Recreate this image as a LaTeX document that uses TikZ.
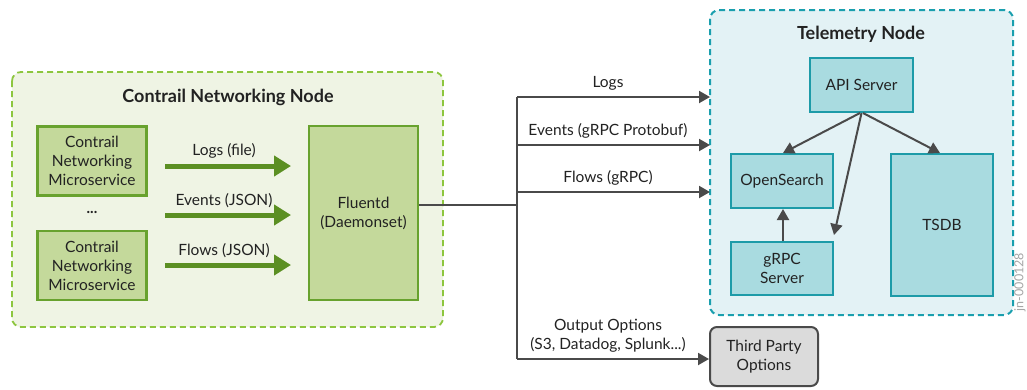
\documentclass[tikz,border=0pt]{standalone}
\usepackage{fontspec}
\setmainfont{Lato}
\usetikzlibrary{arrows.meta,calc}
\definecolor{gcfill}{HTML}{EFF4E4}
\definecolor{gcdraw}{HTML}{8DC63F}
\definecolor{gbfill}{HTML}{C4D99B}
\definecolor{gbdraw}{HTML}{68A22E}
\definecolor{garrow}{HTML}{5B8F22}
\definecolor{tcfill}{HTML}{E3F2F5}
\definecolor{tcdraw}{HTML}{1A9FAE}
\definecolor{tbfill}{HTML}{A9DBE0}
\definecolor{tbdraw}{HTML}{1D9BA8}
\definecolor{conn}{HTML}{4A4A4A}
\definecolor{txt}{HTML}{222222}
\tikzset{
  lbl/.style={font=\fontsize{15.5}{19}\selectfont, text=txt, align=center, inner sep=0pt},
  ttl/.style={font=\fontsize{18}{21}\selectfont\bfseries, text=txt, inner sep=0pt},
  gbox/.style={draw=gbdraw, fill=gbfill, line width=2.5pt, lbl},
  tbox/.style={draw=tbdraw, fill=tbfill, line width=2pt, lbl},
  gcont/.style={draw=gcdraw, fill=gcfill, line width=1.8pt, dash pattern=on 6pt off 4pt, rounded corners=9pt},
  tcont/.style={draw=tcdraw, fill=tcfill, line width=2pt, dash pattern=on 6pt off 4pt, rounded corners=9pt},
  garr/.style={draw=garrow, line width=5pt, -{Triangle[length=17pt,width=20pt]}},
  carr/.style={draw=conn, line width=2pt, -{Triangle[length=11pt,width=12pt]}},
  cline/.style={draw=conn, line width=2pt},
}
\begin{document}
\begin{tikzpicture}[x=1pt,y=-1pt]
\useasboundingbox (0,0) rectangle (1027,389);
% containers
\draw[gcont] (12,72) rectangle (443,327);
\node[ttl] (gtitle) at (228,97) {Contrail Networking Node};
\draw[tcont] (710,10) rectangle (1013,315);
\node[ttl] (ttitle) at (861,34) {Telemetry Node};
\coordinate (tcw) at (710,10);
% green boxes
\node[gbox, minimum width=109pt, minimum height=69pt] (ms1) at (92,161) {Contrail\\Networking\\Microservice};
\node[gbox, minimum width=109pt, minimum height=69pt] (ms2) at (92,265.5) {Contrail\\Networking\\Microservice};
\node[lbl, font=\fontsize{15}{19}\selectfont\bfseries] (dots) at (92,212) {...};
\node[gbox, minimum width=109pt, minimum height=174pt] (fd) at (363.5,213) {Fluentd\\(Daemonset)};
% green arrows
\coordinate (g1s) at (165,166); \coordinate (g1e) at (291,166);
\coordinate (g2s) at (165,215); \coordinate (g2e) at (291,215);
\coordinate (g3s) at (165,265); \coordinate (g3e) at (291,265);
\draw[garr] (g1s) -- (g1e);
\draw[garr] (g2s) -- (g2e);
\draw[garr] (g3s) -- (g3e);
\node[lbl] (l1) at (224,151) {Logs (file)};
\node[lbl] (l2) at (224,201) {Events (JSON)};
\node[lbl] (l3) at (224,251) {Flows (JSON)};
% telemetry boxes
\node[tbox, minimum width=103pt, minimum height=54pt] (api) at (861.5,85) {API Server};
\node[tbox, minimum width=102pt, minimum height=54pt] (os) at (782,181) {OpenSearch};
\node[tbox, minimum width=102pt, minimum height=53pt] (grpc) at (782,268.5) {gRPC\\Server};
\node[tbox, minimum width=102pt, minimum height=142pt] (tsdb) at (942,225) {TSDB};
% third party
\node[draw=conn, fill=gray!28, line width=2pt, rounded corners=7pt, minimum width=108pt, minimum height=59pt, lbl] (tp) at (764,356.5) {Third Party\\Options};
% connectors
\coordinate (J) at (517,205);
\coordinate (Bt) at (517,97);
\coordinate (Be) at (517,145);
\coordinate (Bf) at (517,192);
\coordinate (Bb) at (517,359);
\draw[cline] (fd.east |- J) -- (J);
\draw[cline] (Bt) -- (Bb);
\draw[carr] (Bt) -- (tcw |- Bt);
\draw[carr] (Be) -- (tcw |- Be);
\draw[carr] (Bf) -- (tcw |- Bf);
\draw[carr] (Bb) -- (tp.west |- Bb);
\node[lbl] (c1) at (608,83) {Logs};
\node[lbl] (c2) at (608,131) {Events (gRPC Protobuf)};
\node[lbl] (c3) at (608,178) {Flows (gRPC)};
\node[lbl] (c4) at (608,335.5) {Output Options\\(S3, Datadog, Splunk...)};
% telemetry internal
\draw[carr] ([xshift=-1.5pt]api.south) -- ([xshift=1pt]os.north);
\draw[carr] ([xshift=1.5pt]api.south) -- ([xshift=-2pt]tsdb.north);
\draw[carr] (api.south) -- ([yshift=6pt]grpc.north east);
\draw[carr] ([xshift=1pt]grpc.north) -- ([xshift=1pt]os.south);
% watermark
\node[rotate=90, font=\fontsize{12.5}{14}\selectfont, text=gray!70, inner sep=0pt] (wm) at (1020,282) {jn-000128};
\end{tikzpicture}
\end{document}
